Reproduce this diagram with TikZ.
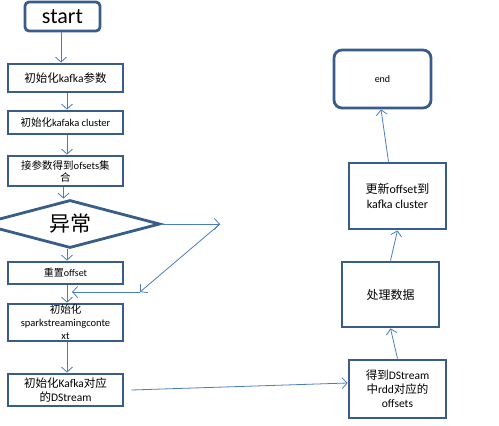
\documentclass[tikz,border=0pt]{standalone}
\usepackage{fontspec}
\setmainfont{Carlito}
\newfontfamily\cjk{Noto Sans CJK SC}
\newcommand\zh[1]{{\cjk #1}}
\usetikzlibrary{arrows.meta,shapes.geometric}
\definecolor{BoxClr}{RGB}{56,93,138}
\definecolor{LineClr}{RGB}{74,126,187}

\begin{document}
\begin{tikzpicture}[x=1pt,y=-1pt,
  box/.style={draw=BoxClr,line width=2.8pt,fill=white,minimum width=115pt,align=center,inner sep=1pt},
  rbox/.style={box,rounded corners=6pt},
  arr/.style={draw=LineClr,line width=0.8pt,-{Straight Barb[length=5pt,width=11pt,line width=0.8pt]}}]
\useasboundingbox (0,0) rectangle (499,426);

\node[rbox,minimum width=75pt,minimum height=29pt,rounded corners=4pt,font=\fontsize{22}{24}\selectfont] (start) at (62.5,16.5) {start};
\node[box,minimum height=28pt,font=\fontsize{11.5}{13}\selectfont] (init) at (65.5,78) {\zh{初始化}kafka\zh{参数}};
\node[box,minimum height=23pt,font=\fontsize{10.5}{12}\selectfont] (clus) at (65.5,122.5) {\zh{初始化}kafaka cluster};
\node[box,minimum height=30pt,font=\fontsize{10.5}{12}\selectfont] (offs) at (65.5,171) {\zh{接参数得到}ofsets\zh{集}\\\zh{合}};
\node[draw=BoxClr,line width=2.8pt,fill=white,diamond,minimum width=180pt,minimum height=48pt,aspect=3.75,inner sep=0pt,font=\fontsize{21}{23}\selectfont] (err) at (70,224) {\zh{异常}};
\node[box,minimum height=22pt,font=\fontsize{10}{12}\selectfont] (reset) at (65.5,273) {\zh{重置}offset};
\node[box,minimum height=31pt,font=\fontsize{10.5}{13}\selectfont] (ssc) at (65.5,322.5) {\zh{初始化}\\sparkstreamingconte\\xt};
\node[box,minimum height=32pt,font=\fontsize{11.5}{14}\selectfont] (dstr) at (65.5,390) {\zh{初始化}Kafka\zh{对应}\\\zh{的}DStream};

\node[box,minimum width=97pt,minimum height=58pt,font=\fontsize{11.5}{14}\selectfont] (rdd) at (397.5,389) {\zh{得到}DStream\\\zh{中}rdd\zh{对应的}\\offsets};
\node[box,minimum width=97pt,minimum height=65pt,font=\fontsize{12}{14}\selectfont] (proc) at (390.5,294.5) {\zh{处理数据}};
\node[box,minimum width=97pt,minimum height=66pt,font=\fontsize{12}{15}\selectfont] (upd) at (397.5,196) {\zh{更新}offset\zh{到}\\kafka cluster};
\node[rbox,minimum width=97pt,minimum height=58pt,rounded corners=8pt,font=\fontsize{10}{12}\selectfont] (end) at (382.5,79) {end};

\coordinate (r1) at (220,224);
\coordinate (r2) at (140,292);
\coordinate (r3) at (72,292);

\draw[arr] ([xshift=-1.5pt]start.south) -- ([xshift=-1.5pt]start.south |- init.north);
\draw[arr] ([xshift=1.5pt]init.south) -- ([xshift=1.5pt]init.south |- clus.north);
\draw[arr] ([xshift=1.5pt]clus.south) -- ([xshift=1.5pt]clus.south |- offs.north);
\draw[arr] ([xshift=-2pt]offs.south) -- ([xshift=-2pt]offs.south |- err.north);
\draw[arr] ([xshift=-3pt]err.south) -- ([xshift=-3pt]err.south |- reset.north);
\draw[arr] ([xshift=1.5pt]reset.south) -- ([xshift=1.5pt]reset.south |- ssc.north);
\draw[arr] ([xshift=1.5pt]ssc.south) -- ([xshift=1.5pt]ssc.south |- dstr.north);

\draw[arr] (err.east) -- (r1);
\draw[arr] (r1) -- (r2);
\draw[arr] (r2) -- (r3);

\draw[arr] ([xshift=7pt]dstr.east) -- ([yshift=6pt]rdd.west);
\draw[arr] (rdd.north) -- (proc.south);
\draw[arr] (proc.north) -- (upd.south);
\draw[arr] ([xshift=-9pt]upd.north) -- ([xshift=-1.5pt]end.south);
\end{tikzpicture}
\end{document}
